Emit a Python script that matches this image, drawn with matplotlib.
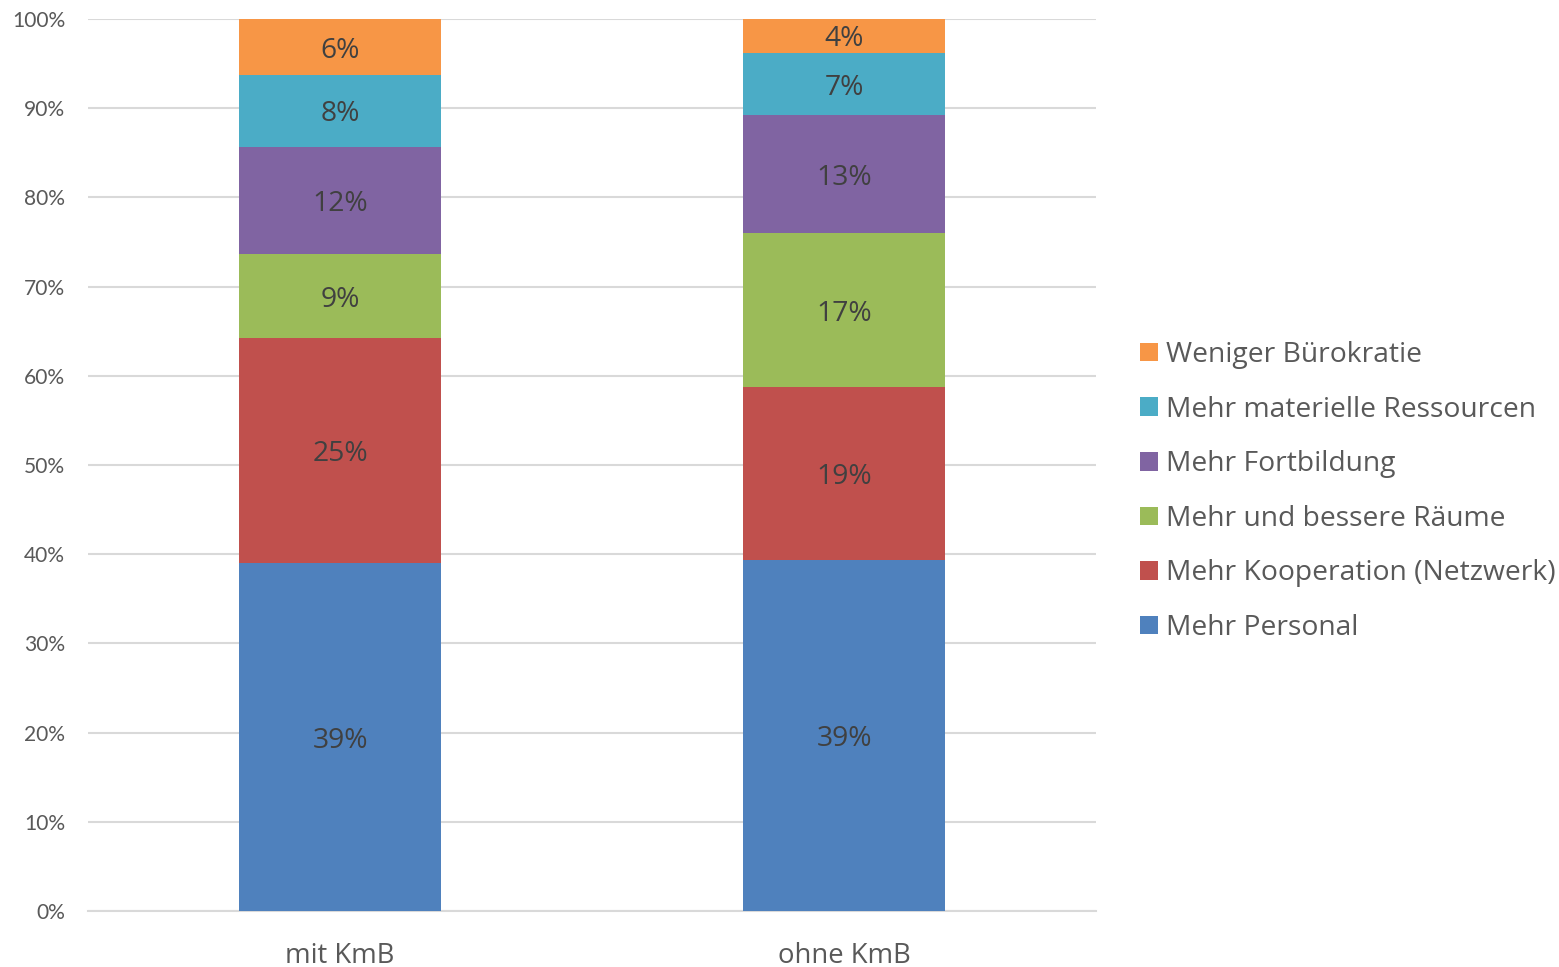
import matplotlib.pyplot as plt
import numpy as np

# Categories and series (share in %)
categories = ['mit KmB', 'ohne KmB']
series = ['Mehr Personal', 'Mehr Kooperation (Netzwerk)', 'Mehr und bessere Räume',
          'Mehr Fortbildung', 'Mehr materielle Ressourcen', 'Weniger Bürokratie']
values = {
    'Mehr Personal': [39.0, 39.4],
    'Mehr Kooperation (Netzwerk)': [25.2, 19.3],
    'Mehr und bessere Räume': [9.4, 17.3],
    'Mehr Fortbildung': [12.1, 13.2],
    'Mehr materielle Ressourcen': [8.0, 7.0],
    'Weniger Bürokratie': [6.3, 3.8],
}
colors = ['#4F81BD', '#C0504D', '#9BBB59', '#8064A2', '#4BACC6', '#F79646']

fig = plt.figure(figsize=(15.59, 9.67), dpi=100)
ax = fig.add_axes([88 / 1559, 1 - 911 / 967, 1008 / 1559, 892 / 967])

x = np.arange(len(categories))
bottom = np.zeros(len(categories))
tot = np.array([sum(values[s][i] for s in series) for i in range(len(categories))])
handles = []
for name, color in zip(series, colors):
    vals = np.array(values[name]) / tot * 100
    b = ax.bar(x, vals, 0.4, bottom=bottom, color=color, label=name, zorder=3)
    handles.append(b)
    # data labels in the middle of each segment
    for xi, v, bt in zip(x, vals, bottom):
        ax.annotate(f'{round(v)}%', (xi, bt + v / 2), xytext=(0, -2.5),
                    textcoords='offset points', ha='center', va='center',
                    fontsize=20.3, color='#404040', family='Open Sans', zorder=4)
    bottom += vals

ax.set_xlim(-0.5, 1.5)
ax.set_ylim(0, 100)
ax.set_yticks(range(0, 101, 10))
ax.set_yticklabels([f'{t}%' for t in range(0, 101, 10)], family='Lato', fontsize=15.1, color='#595959')
ax.set_xticks(x)
ax.set_xticklabels(categories, family='Open Sans', fontsize=19.8, color='#595959')
ax.tick_params(axis='both', length=0)
ax.tick_params(axis='y', pad=16.5)
ax.tick_params(axis='x', pad=22)
ax.grid(axis='y', color='#d9d9d9', linewidth=1.5, zorder=0)
for s in ['top', 'right', 'left']:
    ax.spines[s].set_visible(False)
ax.spines['bottom'].set_color('#d9d9d9')
ax.spines['bottom'].set_linewidth(1.5)

leg = fig.legend(handles[::-1], series[::-1], loc='center left',
                 bbox_to_anchor=(1140 / 1559, 1 - 491.5 / 967), frameon=False,
                 prop={'family': 'Open Sans', 'size': 20.3}, handlelength=0.64,
                 handleheight=0.64, handletextpad=0.28, labelspacing=0.943,
                 borderpad=0, borderaxespad=0)
for t in leg.get_texts():
    t.set_color('#595959')

plt.savefig('out.png', dpi=100)
